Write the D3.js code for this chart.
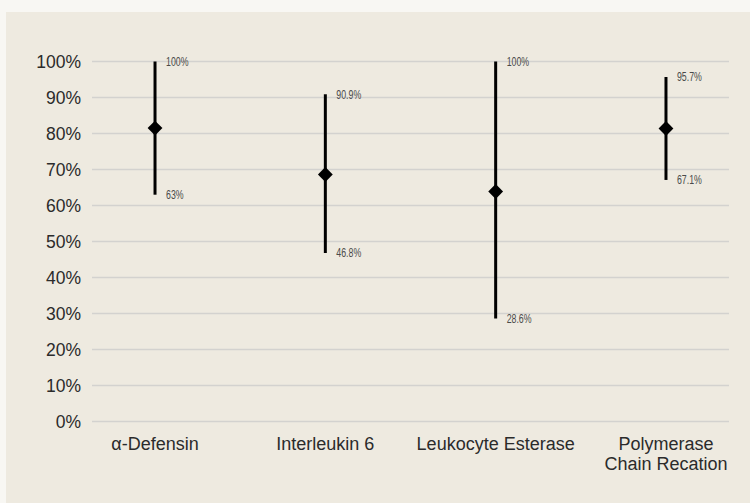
<!DOCTYPE html>
<html>
<head>
<meta charset="utf-8">
<script src="https://cdn.jsdelivr.net/npm/d3@7"></script>
<style>
    body { margin: 0; background: #f8f7f3; }
    svg { display: block; }
    .tick-label { font-family: "Liberation Sans", Arial, sans-serif; font-size: 17.5px; fill: #2b2b2b; }
    .cat-label { font-family: "Liberation Sans", Arial, sans-serif; font-size: 18px; fill: #2b2b2b; }
    .ci-label { font-family: "Liberation Sans", Arial, sans-serif; font-size: 11px; fill: #4a4a4a; }
</style>
</head>
<body>
<svg id="chart" width="750" height="503"></svg>
<script>
const categories = ["α-Defensin", "Interleukin 6", "Leukocyte Esterase", "Polymerase\nChain Recation"];
const estimates = [81.5, 68.6, 63.9, 81.4];
const lower = [63, 46.8, 28.6, 67.1];
const upper = [100, 90.9, 100, 95.7];
const lowerText = ["63%", "46.8%", "28.6%", "67.1%"];
const upperText = ["100%", "90.9%", "100%", "95.7%"];
const yTicks = [0, 10, 20, 30, 40, 50, 60, 70, 80, 90, 100];

const rows = categories.map((c, i) => ({
    name: c, est: estimates[i], lo: lower[i], hi: upper[i],
    loText: lowerText[i], hiText: upperText[i]
}));

const svg = d3.select("#chart");

// beige panel
svg.append("rect").attr("x", 6).attr("y", 12).attr("width", 744).attr("height", 491).attr("fill", "#eeeae0");

const x = d3.scalePoint().domain(categories).range([92, 729]).padding(0.37);
const y = d3.scaleLinear().domain([0, 100]).range([421.5, 61.5]);

// grid lines
svg.append("g").selectAll("line").data(yTicks).join("line")
    .attr("x1", 92).attr("x2", 729)
    .attr("y1", d => y(d)).attr("y2", d => y(d))
    .attr("stroke", "#d3d2cf").attr("stroke-width", 1.5);

// y tick labels
svg.append("g").selectAll("text").data(yTicks).join("text")
    .attr("class", "tick-label")
    .attr("x", 81).attr("y", d => y(d)).attr("dy", "0.36em")
    .attr("text-anchor", "end")
    .text(d => d + "%");

// category labels (multi-line)
const cats = svg.append("g").selectAll("text").data(categories).join("text")
    .attr("class", "cat-label")
    .attr("text-anchor", "middle")
    .attr("x", d => x(d)).attr("y", 450);
cats.selectAll("tspan").data(d => d.split("\n").map(s => ({ s, c: d }))).join("tspan")
    .attr("x", d => x(d.c)).attr("dy", (d, i) => i === 0 ? 0 : 19.5)
    .text(d => d.s);

// confidence interval lines
const g = svg.append("g");
g.selectAll("line").data(rows).join("line")
    .attr("x1", d => x(d.name)).attr("x2", d => x(d.name))
    .attr("y1", d => y(d.lo)).attr("y2", d => y(d.hi))
    .attr("stroke", "#000").attr("stroke-width", 3);

// diamonds
g.selectAll("path").data(rows).join("path")
    .attr("d", d3.symbol(d3.symbolSquare, 110))
    .attr("transform", d => `translate(${x(d.name)},${y(d.est)}) rotate(45)`)
    .attr("fill", "#000");

// end labels, squeezed horizontally like a condensed face
const ends = rows.flatMap(d => [
    { name: d.name, v: d.hi, t: d.hiText },
    { name: d.name, v: d.lo, t: d.loText }
]);
g.selectAll(".end").data(ends).join("text")
    .attr("class", "ci-label end")
    .attr("transform", d => `translate(${x(d.name) + 11},${y(d.v)}) scale(0.8,1.12)`)
    .attr("dy", "0.36em")
    .text(d => d.t);
</script>
</body>
</html>
